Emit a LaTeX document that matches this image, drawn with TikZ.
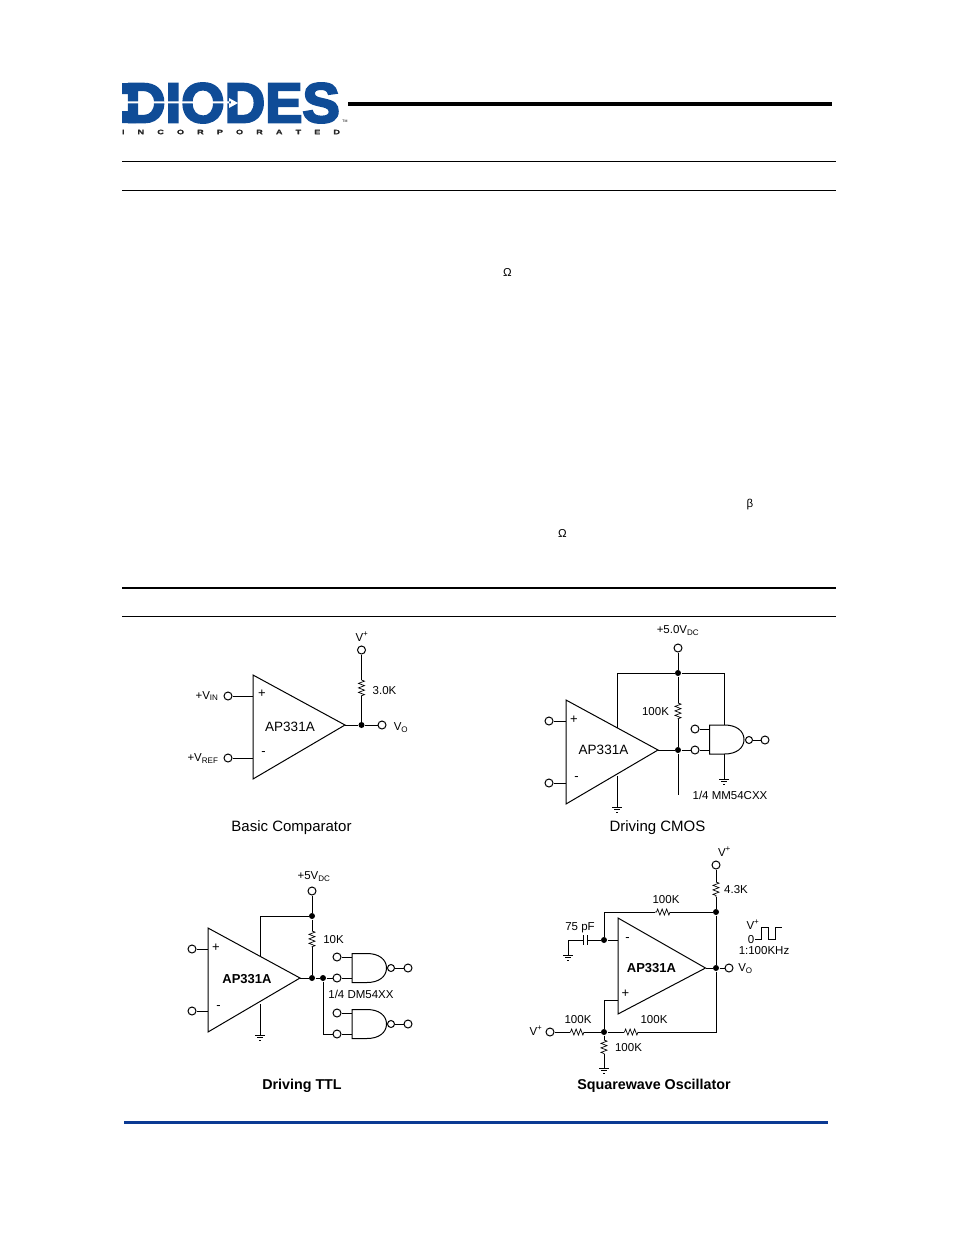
\documentclass[tikz,border=0pt]{standalone}
\usepackage{fontspec}
\setmainfont{Liberation Sans}
\newfontfamily\logofont[FakeBold=4]{Liberation Sans Bold}
\newfontfamily\incfont[FakeBold=1.5,FakeStretch=1.4]{Liberation Sans Bold}
\usetikzlibrary{decorations.pathmorphing}
\definecolor{logoblue}{HTML}{0F4C97}
\definecolor{footblue}{HTML}{0B3A93}
\tikzset{
  term/.style={circle,draw=black,fill=white,inner sep=0pt,minimum size=8pt,line width=1pt},
  bubble/.style={term,minimum size=7pt},
  jdot/.style={circle,fill=black,inner sep=0pt,minimum size=6pt},
  lab/.style={inner sep=0pt,font=\fontsize{11.5}{13}\selectfont},
  labamp/.style={inner sep=0pt,font=\fontsize{13.5}{15}\selectfont},
  labbold/.style={inner sep=0pt,font=\fontsize{13}{15}\selectfont\bfseries},
  labsign/.style={inner sep=0pt,font=\fontsize{13}{15}\selectfont},
  capt/.style={inner sep=0pt,font=\fontsize{15}{17}\selectfont},
  captbold/.style={inner sep=0pt,font=\fontsize{14.3}{17}\selectfont\bfseries},
  wire/.style={line width=1pt},
  zig/.style={line width=.7pt,decorate,decoration={zigzag,segment length=4.5pt,amplitude=3pt}},
  amp/.style={line width=1pt,line join=miter},
  gnd/.pic={\draw[line width=.9pt] (-5,0) -- (5,0) (-3,2.5) -- (3,2.5) (-1,5) -- (1,5);},
  nandg/.pic={\draw[line width=1pt] (15,0) -- (0,0) -- (0,29) -- (15,29)
    .. controls (27,29) and (34.5,23) .. (34.5,14.5) .. controls (34.5,6) and (27,0) .. (15,0);}
}
\begin{document}
\begin{tikzpicture}
  [x=1pt,y=-1pt,every path/.style={wire}]

  \useasboundingbox (0,0) rectangle (954,1235);

  \node (logo) [inner sep=0pt,text=logoblue,font=\fontsize{56}{60}\logofont] at (232.5,103) {DIODES};
  \fill[logoblue] (122,83) rectangle (136,94) (122,111) rectangle (136,123);
  \fill[white] (122,101.3) rectangle (231,103.3) (229,98) -- (238,103) -- (229,108) -- cycle;
  \node (inc) [inner sep=0pt,text=black!85,font=\fontsize{6.5}{7}\incfont] at (231,132)
    {\makebox[218pt][s]{I\hfill N\hfill C\hfill O\hfill R\hfill P\hfill O\hfill R\hfill A\hfill T\hfill E\hfill D}};
  \node (tm) [inner sep=0pt,font=\fontsize{3.5}{4}\selectfont] at (345,121) {TM};

  \draw[line width=3.6pt] (348,104) -- (832,104);
  \draw[line width=1pt] (122,161.5) -- (836,161.5);
  \draw[line width=1pt] (122,190.5) -- (836,190.5);
  \draw[line width=1.8pt] (122,588) -- (836,588);
  \draw[line width=1pt] (122,616.5) -- (836,616.5);
  \draw[line width=3pt,footblue] (124,1122.5) -- (828,1122.5);

  \node (om1) [lab] at (507.5,272) {Ω};
  \node (bet) [lab] at (750,505) {β};
  \node (om2) [lab] at (562.5,533) {Ω};

  % Basic Comparator
  \draw[amp] (253,675) coordinate (a1t) -- (345,725) coordinate (a1o) -- (253,779) coordinate (a1b) -- cycle;
  \node (a1) [labamp] at (290,726.5) {AP331A};
  \node (a1p) [labsign] at (262,694) {+};
  \node (a1m) [labsign] at (263.5,754) {-};
  \node (vin) [term] at (228,696) {};
  \node (vref) [term] at (228,758) {};
  \node (vp1) [term] at (361.5,650) {};
  \node (d1) [jdot] at (361.5,725) {};
  \node (vo1) [term] at (382,725) {};
  \coordinate (i1a) at (253,696);
  \coordinate (i1b) at (253,758);
  \coordinate (r1a) at (361.5,680);
  \coordinate (r1b) at (361.5,697);
  \draw (vin) -- (i1a);
  \draw (vref) -- (i1b);
  \draw (vp1) -- (r1a);
  \draw[zig] (r1a) -- (r1b);
  \draw (r1b) -- (d1);
  \draw (a1o) -- (d1) -- (vo1);
  \node (lvin) [lab,anchor=east] at (219,696) {+V\textsubscript{IN}};
  \node (lvref) [lab,anchor=east] at (219,758.5) {+V\textsubscript{REF}};
  \node (lvp1) [lab] at (362,636.5) {V\textsuperscript{+}};
  \node (lr1) [lab] at (384.5,690.5) {3.0K};
  \node (lvo1) [lab] at (401,727.5) {V\textsubscript{O}};
  \node (cap1) [capt] at (291.5,828) {Basic Comparator};

  % Driving CMOS
  \draw[amp] (566,700) coordinate (a2t) -- (658,750) coordinate (a2o) -- (566,804) coordinate (a2b) -- cycle;
  \node (a2) [labamp] at (603.5,749.5) {AP331A};
  \node (a2p) [labsign] at (574,720) {+};
  \node (a2m) [labsign] at (576.5,779) {-};
  \node (i2a) [term] at (549,721) {};
  \node (i2b) [term] at (549,783) {};
  \node (vp2) [term] at (678,648) {};
  \node (d2a) [jdot] at (678,673) {};
  \node (d2b) [jdot] at (678,750) {};
  \node (g2a) [term] at (695,729) {};
  \node (g2b) [term] at (695,750) {};
  \node (b2) [bubble] at (749,740) {};
  \node (o2) [term] at (765,740) {};
  \pic at (709.5,725) {nandg};
  \coordinate (e2a) at (566,721);
  \coordinate (e2b) at (566,783);
  \coordinate (r2a) at (678,703);
  \coordinate (r2b) at (678,719);
  \coordinate (s2) at (678,795);
  \coordinate (c2l) at (617,673);
  \coordinate (c2r) at (724,673);
  \coordinate (t2) at (617,727.5);
  \coordinate (u2) at (617,776);
  \coordinate (f2) at (617,807);
  \coordinate (h2a) at (724,725);
  \coordinate (h2b) at (724,754);
  \coordinate (k2) at (724,779);
  \coordinate (m2a) at (709.5,729);
  \coordinate (m2b) at (709.5,750);
  \draw (i2a) -- (e2a);
  \draw (i2b) -- (e2b);
  \draw (vp2) -- (d2a);
  \draw (t2) -- (c2l) -- (d2a) -- (c2r) -- (h2a);
  \draw (d2a) -- (r2a);
  \draw[zig] (r2a) -- (r2b);
  \draw (r2b) -- (d2b) -- (s2);
  \draw (a2o) -- (d2b) -- (g2b) -- (m2b);
  \draw (g2a) -- (m2a);
  \draw (b2) -- (o2);
  \draw (h2b) -- (k2);
  \draw (u2) -- (f2);
  \pic at (k2) {gnd};
  \pic at (f2) {gnd};
  \node (lvp2) [lab] at (678,630.5) {+5.0V\textsubscript{DC}};
  \node (lr2) [lab] at (655.5,711.5) {100K};
  \node (lgate2) [lab] at (730,795.5) {1/4 MM54CXX};
  \node (cap2) [capt] at (657.5,828) {Driving CMOS};

  % Driving TTL
  \draw[amp] (208,928) coordinate (a3t) -- (300,978) coordinate (a3o) -- (208,1032) coordinate (a3b) -- cycle;
  \node (a3) [labbold] at (247,979.5) {AP331A};
  \node (a3p) [labsign] at (216,948) {+};
  \node (a3m) [labsign] at (218.5,1008) {-};
  \node (i3a) [term] at (192,949) {};
  \node (i3b) [term] at (192,1011) {};
  \node (vp3) [term] at (312,891) {};
  \node (d3a) [jdot] at (312,916) {};
  \node (d3b) [jdot] at (312,978) {};
  \node (d3c) [jdot] at (323,978) {};
  \node (g3a) [term] at (337,957) {};
  \node (g3b) [term] at (337,978) {};
  \node (g3c) [term] at (337,1013) {};
  \node (g3d) [term] at (337,1034) {};
  \node (b3a) [bubble] at (391,968) {};
  \node (o3a) [term] at (408,968) {};
  \node (b3b) [bubble] at (391,1024) {};
  \node (o3b) [term] at (408,1024) {};
  \pic at (352,953.5) {nandg};
  \pic at (352,1009.5) {nandg};
  \coordinate (e3a) at (208,949);
  \coordinate (e3b) at (208,1011);
  \coordinate (r3a) at (312,931);
  \coordinate (r3b) at (312,947);
  \coordinate (c3l) at (260,916);
  \coordinate (t3) at (260,957);
  \coordinate (u3) at (260,1004);
  \coordinate (f3) at (260,1035);
  \coordinate (n3) at (323,1034);
  \coordinate (m3a) at (352,957);
  \coordinate (m3b) at (352,978);
  \coordinate (m3c) at (352,1013);
  \coordinate (m3d) at (352,1034);
  \draw (i3a) -- (e3a);
  \draw (i3b) -- (e3b);
  \draw (vp3) -- (d3a) -- (r3a);
  \draw (t3) -- (c3l) -- (d3a);
  \draw[zig] (r3a) -- (r3b);
  \draw (r3b) -- (d3b);
  \draw (a3o) -- (d3b) -- (d3c) -- (g3b) -- (m3b);
  \draw (g3a) -- (m3a);
  \draw (d3c) -- (n3) -- (g3d) -- (m3d);
  \draw (g3c) -- (m3c);
  \draw (b3a) -- (o3a);
  \draw (b3b) -- (o3b);
  \draw (u3) -- (f3);
  \pic at (f3) {gnd};
  \node (lvp3) [lab] at (314,876.5) {+5V\textsubscript{DC}};
  \node (lr3) [lab] at (333.5,939.5) {10K};
  \node (lgate3) [lab] at (361,994.5) {1/4 DM54XX};
  \node (cap3) [captbold] at (302,1085.5) {Driving TTL};

  % Squarewave Oscillator
  \draw[amp] (618,918) coordinate (a4t) -- (705.5,968) coordinate (a4o) -- (618,1014) coordinate (a4b) -- cycle;
  \node (a4) [labbold] at (651.5,968.5) {AP331A};
  \node (a4p) [labsign] at (625.5,994) {+};
  \node (a4m) [labsign] at (627.5,940) {-};
  \node (vp4) [term] at (716,865) {};
  \node (d4a) [jdot] at (716,912) {};
  \node (d4b) [jdot] at (604,940) {};
  \node (d4c) [jdot] at (716,968) {};
  \node (d4d) [jdot] at (604,1032) {};
  \node (vo4) [term] at (729,968) {};
  \node (vp5) [term] at (550,1032) {};
  \coordinate (r4a) at (716,882);
  \coordinate (r4b) at (716,897);
  \coordinate (c4a) at (604,912);
  \coordinate (r5a) at (655,912);
  \coordinate (r5b) at (670,912);
  \coordinate (e4a) at (618,940);
  \coordinate (e4b) at (618,1000);
  \coordinate (c4b) at (604,1000);
  \coordinate (p4a) at (587.5,940);
  \coordinate (p4b) at (583.5,940);
  \coordinate (c4c) at (568,940);
  \coordinate (f4a) at (568,955);
  \coordinate (c4d) at (716,1032);
  \coordinate (r6a) at (638,1032);
  \coordinate (r6b) at (624,1032);
  \coordinate (r7a) at (570,1032);
  \coordinate (r7b) at (584,1032);
  \coordinate (r8a) at (604,1040);
  \coordinate (r8b) at (604,1054);
  \coordinate (f4b) at (604,1068);
  \draw (vp4) -- (r4a);
  \draw[zig] (r4a) -- (r4b);
  \draw (r4b) -- (d4a) -- (d4c) -- (c4d) -- (r6a);
  \draw[zig] (r6a) -- (r6b);
  \draw (r6b) -- (d4d) -- (r7b);
  \draw[zig] (r7b) -- (r7a);
  \draw (r7a) -- (vp5);
  \draw (d4a) -- (r5b);
  \draw[zig] (r5b) -- (r5a);
  \draw (r5a) -- (c4a) -- (d4b);
  \draw (e4a) -- (d4b) -- (p4a);
  \draw[line width=1pt] (587.5,935) -- (587.5,945) (583.5,935) -- (583.5,945);
  \draw (p4b) -- (c4c) -- (f4a);
  \draw (e4b) -- (c4b) -- (d4d);
  \draw (d4d) -- (r8a);
  \draw[zig] (r8a) -- (r8b);
  \draw (r8b) -- (f4b);
  \draw (a4o) -- (d4c) -- (vo4);
  \pic at (f4a) {gnd};
  \pic at (f4b) {gnd};
  \draw[line width=1pt] (755,939) -- (761,939) -- (761,927.5) -- (768.5,927.5) -- (768.5,939) -- (775,939) -- (775,927.5) -- (782,927.5);
  \node (lvp4) [lab] at (724.5,851.5) {V\textsuperscript{+}};
  \node (lr4) [lab] at (736,889.5) {4.3K};
  \node (lr5) [lab] at (666,899.5) {100K};
  \node (lc4) [lab] at (580,927.5) {75 pF};
  \node (lvo4) [lab] at (745.5,968.5) {V\textsubscript{O}};
  \node (lw4a) [lab] at (753,924.5) {V\textsuperscript{+}};
  \node (lw4b) [lab] at (751,939.5) {0};
  \node (lw4c) [lab] at (764,950.5) {1:100KHz};
  \node (lvp5) [lab] at (536,1030.5) {V\textsuperscript{+}};
  \node (lr7) [lab] at (578,1019.5) {100K};
  \node (lr6) [lab] at (654,1019.5) {100K};
  \node (lr8) [lab] at (628.5,1047.5) {100K};
  \node (cap4) [captbold] at (654,1085.5) {Squarewave Oscillator};
\end{tikzpicture}
\end{document}
